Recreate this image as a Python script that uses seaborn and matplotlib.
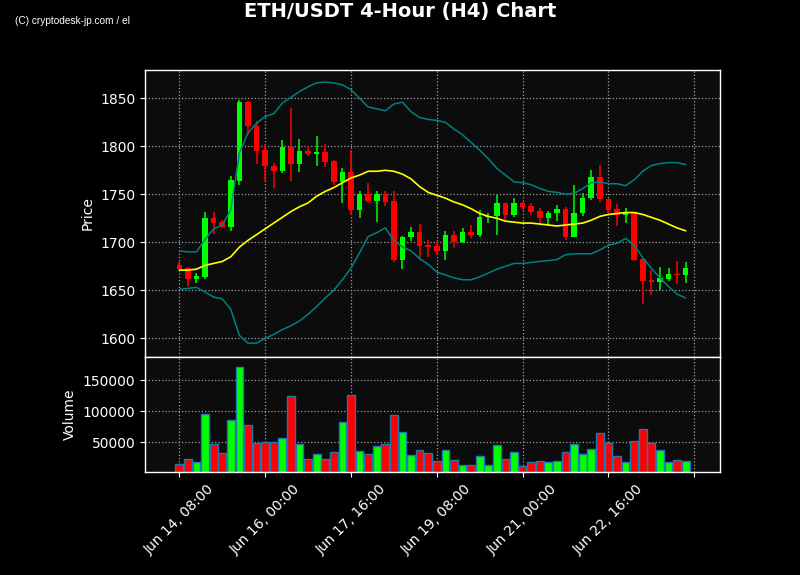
import numpy as np
import pandas as pd
import matplotlib
matplotlib.use("Agg")
import matplotlib.pyplot as plt
import seaborn as sns

# ---------------- data ----------------
opens = [1676, 1673, 1662, 1664, 1725, 1721, 1716, 1764, 1846, 1821,
         1796, 1779, 1774, 1799, 1782, 1795, 1792, 1794, 1785, 1763,
         1773, 1734, 1750, 1743, 1750, 1743, 1682, 1705, 1711, 1697,
         1696, 1691, 1708, 1700, 1711, 1708, 1726, 1727, 1741, 1728,
         1741, 1738, 1733, 1725, 1730, 1735, 1706, 1730, 1746, 1768,
         1745, 1735, 1728, 1730, 1683, 1661, 1659, 1662, 1667, 1666]
closes = [1672, 1662, 1665, 1725, 1720, 1716, 1765, 1846, 1821, 1795,
          1779, 1774, 1799, 1782, 1795, 1792, 1794, 1784, 1763, 1773,
          1734, 1750, 1743, 1750, 1742, 1682, 1706, 1711, 1696, 1695,
          1691, 1708, 1700, 1711, 1708, 1726, 1727, 1741, 1728, 1741,
          1737, 1732, 1725, 1731, 1735, 1706, 1731, 1746, 1768, 1745,
          1734, 1728, 1730, 1682, 1660, 1659, 1663, 1667, 1666, 1673]
highs = [1679, 1674, 1668, 1732, 1732, 1723, 1769, 1848, 1847, 1826,
         1802, 1783, 1807, 1840, 1808, 1800, 1811, 1802, 1786, 1777,
         1796, 1753, 1762, 1753, 1753, 1753, 1707, 1716, 1719, 1702,
         1701, 1712, 1712, 1715, 1718, 1734, 1731, 1749, 1741, 1746,
         1742, 1741, 1736, 1733, 1739, 1737, 1760, 1751, 1775, 1780,
         1745, 1740, 1736, 1731, 1683, 1671, 1674, 1673, 1680, 1679]
lows = [1671, 1654, 1658, 1662, 1709, 1715, 1712, 1760, 1812, 1782,
        1764, 1757, 1772, 1764, 1773, 1790, 1779, 1778, 1760, 1741,
        1728, 1725, 1741, 1721, 1738, 1679, 1672, 1701, 1682, 1685,
        1687, 1682, 1694, 1699, 1704, 1706, 1720, 1708, 1721, 1726,
        1734, 1728, 1719, 1717, 1722, 1702, 1705, 1727, 1744, 1742,
        1730, 1717, 1720, 1680, 1636, 1645, 1650, 1660, 1657, 1658]
volumes = [14500, 22600, 17700, 95200, 46800, 32300, 85500, 171000, 77400, 48400,
           50000, 50000, 56500, 124200, 46800, 22600, 30600, 22600, 33900, 82300,
           125800, 35500, 30600, 43500, 46800, 93500, 66100, 29000, 37100, 32300,
           19400, 37100, 21000, 12900, 12900, 27400, 12900, 45200, 22600, 33900,
           11800, 17700, 19400, 17700, 19400, 33900, 46800, 30600, 38700, 64500,
           48400, 27400, 17700, 51600, 71000, 48400, 37100, 17700, 21000, 19400]
ma_line = [1671, 1671, 1672, 1676, 1678, 1680, 1685, 1695, 1702, 1708,
           1714, 1720, 1726, 1732, 1737, 1741, 1748, 1753, 1757, 1762,
           1767, 1770, 1774, 1774, 1775, 1774, 1771, 1766, 1758, 1752,
           1749, 1746, 1742, 1739, 1735, 1730, 1727, 1725, 1722, 1721,
           1720, 1720, 1719, 1718, 1717, 1718, 1719, 1720, 1723, 1727,
           1729, 1730, 1731, 1731, 1729, 1726, 1723, 1719, 1715, 1712]
upper_band = [1691, 1690, 1690, 1703, 1714, 1718, 1734, 1793, 1814, 1824,
              1831, 1834, 1845, 1851, 1857, 1862, 1866, 1867, 1866, 1864,
              1859, 1850, 1841, 1839, 1837, 1844, 1846, 1836, 1830, 1828,
              1827, 1825, 1818, 1812, 1804, 1796, 1787, 1777, 1770, 1763,
              1762, 1760, 1756, 1753, 1752, 1750, 1751, 1756, 1762, 1763,
              1761, 1761, 1759, 1765, 1774, 1780, 1782, 1783, 1783, 1781]
lower_band = [1651, 1652, 1653, 1648, 1643, 1641, 1630, 1603, 1595, 1595,
              1600, 1604, 1609, 1613, 1618, 1625, 1633, 1642, 1650, 1661,
              1673, 1689, 1706, 1710, 1715, 1702, 1695, 1691, 1683, 1677,
              1669, 1666, 1663, 1661, 1661, 1664, 1668, 1672, 1675, 1678,
              1678, 1679, 1680, 1681, 1682, 1687, 1688, 1688, 1688, 1692,
              1697, 1699, 1704, 1697, 1684, 1673, 1663, 1654, 1646, 1642]
tick_positions = [0, 10, 20, 30, 40, 50, 60]
tick_labels = ["Jun 14, 08:00", "Jun 16, 00:00", "Jun 17, 16:00",
               "Jun 19, 08:00", "Jun 21, 00:00", "Jun 22, 16:00", ""]
price_ticks = [1600, 1650, 1700, 1750, 1800, 1850]
volume_ticks = [50000, 100000, 150000]

df = pd.DataFrame({
    "idx": np.arange(len(opens)),
    "open": opens, "close": closes, "high": highs, "low": lows,
    "volume": volumes, "ma": ma_line, "upper": upper_band, "lower": lower_band,
})

# ---------------- style ----------------
sns.set_style("dark")
plt.rcParams["font.family"] = ["DejaVu Sans"]

GREEN = "#00ff00"
RED = "#ff0000"
colors = np.where(df["close"] >= df["open"], GREEN, RED)

fig = plt.figure(figsize=(8, 5.75), dpi=100, facecolor="black")
ax = fig.add_axes([0.18125, 0.3791, 0.71875, 0.4992])
axv = fig.add_axes([0.18125, 0.1791, 0.71875, 0.2], sharex=ax)

for a in (ax, axv):
    a.set_facecolor("#0c0c0c")
    for s in a.spines.values():
        s.set_color("white")
        s.set_linewidth(1.0)
    a.tick_params(colors="white", labelsize=10, length=3.5, width=0.8,
                  bottom=True, left=True)
    a.grid(True, linestyle=":", color="#a0a0a0", linewidth=0.9)
    a.set_axisbelow(True)

# candles
ax.vlines(df["idx"], df["low"], df["high"], colors=colors, linewidth=1.1, zorder=2)
body_bottom = np.minimum(df["open"], df["close"])
body_height = np.maximum(np.abs(df["close"] - df["open"]), 0.8)
ax.bar(df["idx"], body_height, bottom=body_bottom, width=0.65,
       color=colors, linewidth=0, zorder=2)

# moving average & bands
sns.lineplot(data=df, x="idx", y="upper", ax=ax, color="#008080", linewidth=1.1, zorder=3)
sns.lineplot(data=df, x="idx", y="lower", ax=ax, color="#008080", linewidth=1.1, zorder=3)
sns.lineplot(data=df, x="idx", y="ma", ax=ax, color="#ffff00", linewidth=1.2, zorder=4)

ax.set_ylim(1580.5, 1879.5)
ax.set_yticks(price_ticks)
ax.set_xlim(-4, 63)
ax.set_ylabel("Price", color="white", fontsize=10)
ax.set_xlabel("")
ax.tick_params(axis="x", length=0, labelbottom=False)

# volume
axv.bar(df["idx"], df["volume"], width=0.9, color=colors,
        edgecolor="#1f77b4", linewidth=1.0, zorder=2)
axv.set_ylim(1300, 188000)
axv.set_yticks(volume_ticks)
axv.set_ylabel("Volume", color="white", fontsize=10)
axv.set_xticks(tick_positions)
axv.set_xticklabels(tick_labels, rotation=45, ha="center", color="white")
axv.set_xlabel("")

fig.suptitle("ETH/USDT 4-Hour (H4) Chart", color="white", fontsize=14,
             fontweight="bold", y=0.980, va="center")
fig.text(0.019, 0.9635, "(C) cryptodesk-jp.com / el", color="white",
         fontsize=7.3, family=["Liberation Sans", "DejaVu Sans"], va="center")

fig.savefig("out.png", dpi=100, facecolor="black")
